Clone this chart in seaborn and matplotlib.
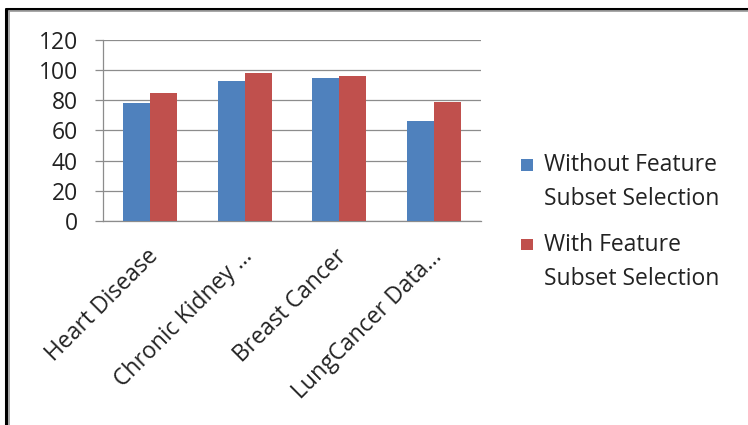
import numpy as np
import pandas as pd
import seaborn as sns
import matplotlib
matplotlib.use("Agg")
from matplotlib import pyplot as plt
from matplotlib.lines import Line2D
from matplotlib.patches import Rectangle
from matplotlib.legend_handler import HandlerPatch
from matplotlib.transforms import ScaledTranslation

# data
categories = ["Heart Disease", "Chronic Kidney …", "Breast Cancer", "LungCancer Data…"]
without_fs = [78, 93, 95, 66]
with_fs = [85, 98, 96, 79]
series_names = ["Without Feature\nSubset Selection", "With Feature\nSubset Selection"]
y_ticks = [0, 20, 40, 60, 80, 100, 120]

df = pd.DataFrame({
    "category": categories * 2,
    "value": without_fs + with_fs,
    "series": [series_names[0]] * 4 + [series_names[1]] * 4,
})

sns.set_style("white")
plt.rcParams["font.family"] = ["Open Sans", "DejaVu Sans"]
FS = 16.5
TXT = "#222222"
GRID = "#8c8c8c"

fig = plt.figure(figsize=(7.48, 4.25), dpi=100)
ax = fig.add_axes([0.1377, 0.48, 0.5053, 0.426])

sns.barplot(data=df, x="category", y="value", hue="series",
            palette=["#4F81BD", "#C0504D"], width=0.57, saturation=1,
            edgecolor="none", ax=ax, zorder=3)

ax.set_ylim(0, 120)
ax.set_xlim(-0.5, 3.5)
ax.set_yticks(y_ticks)
ax.set_yticklabels([str(t) for t in y_ticks], fontsize=FS, color=TXT)
ax.yaxis.grid(True, color=GRID, linewidth=0.9, zorder=0)
ax.set_axisbelow(True)

# ticks sit on the category boundaries, labels on the centres
ax.set_xticks([-0.5, 0.5, 1.5, 2.5, 3.5], minor=True)
ax.set_xticks(range(len(categories)))
ax.set_xticklabels(categories, rotation=45, ha="right", rotation_mode="anchor",
                   fontsize=FS, color=TXT)
ax.tick_params(axis="x", which="major", length=0, pad=17)
ax.tick_params(axis="x", which="minor", length=6, color=GRID, width=0.9)
ax.tick_params(axis="y", length=6, color=GRID, width=0.9, left=True, pad=12)
shift = ScaledTranslation(-4 / 100, 0, fig.dpi_scale_trans)
for lab in ax.get_xticklabels():
    lab.set_transform(lab.get_transform() + shift)

for s in ["top", "right"]:
    ax.spines[s].set_visible(False)
for s in ["left", "bottom"]:
    ax.spines[s].set_color(GRID)
    ax.spines[s].set_linewidth(0.9)

ax.set_xlabel("")
ax.set_ylabel("")


# small square next to the first line of each two-line label
def square_first_line(legend, orig_handle, xdescent, ydescent, width, height, fontsize):
    return Rectangle((-xdescent - 0.5, 14.5), 8.2, 8.2, facecolor=orig_handle.get_facecolor(),
                     edgecolor="none")


handles, labels = ax.get_legend_handles_labels()
leg = ax.legend(handles, labels, loc="upper left", bbox_to_anchor=(522 / 748, 1 - 153 / 425),
                bbox_transform=fig.transFigure, frameon=False, borderpad=0, borderaxespad=0,
                fontsize=FS, handlelength=0.45, handleheight=0.7, handletextpad=0.5,
                labelspacing=0.95, handler_map={Rectangle: HandlerPatch(patch_func=square_first_line)})
for t in leg.get_texts():
    t.set_color(TXT)
    t.set_linespacing(1.55)

# outer frame (left and top only, as in the screenshot)
fig.add_artist(Line2D([6 / 748, 6 / 748], [0, 1 - 9 / 425], color="black", linewidth=2.2,
                      transform=fig.transFigure))
fig.add_artist(Line2D([6 / 748, 1], [1 - 9 / 425, 1 - 9 / 425], color="black", linewidth=2.2,
                      transform=fig.transFigure))
fig.add_artist(Line2D([8.5 / 748, 8.5 / 748], [0, 1 - 11 / 425], color="#a0a0a0", linewidth=1.3,
                      transform=fig.transFigure))
fig.add_artist(Line2D([8.5 / 748, 1], [1 - 11 / 425, 1 - 11 / 425], color="#a0a0a0", linewidth=1.3,
                      transform=fig.transFigure))

plt.savefig("out.png", dpi=100)
